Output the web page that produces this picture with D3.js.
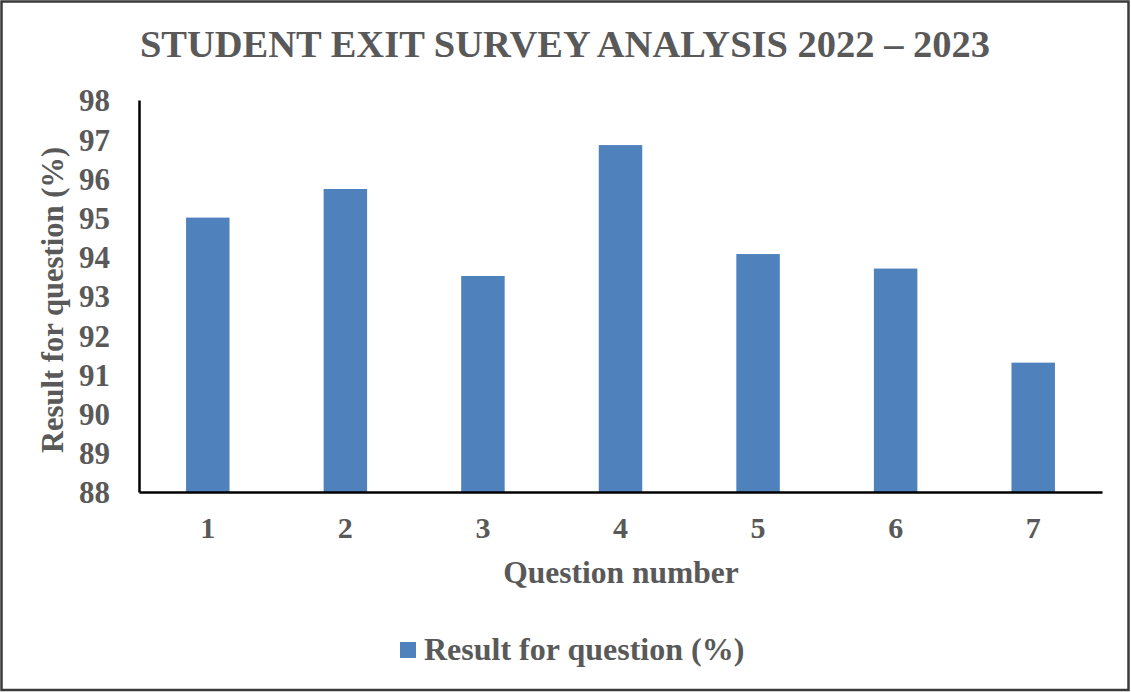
<!DOCTYPE html>
<html>
<head>
<meta charset="utf-8">
<script src="https://cdn.jsdelivr.net/npm/d3@7"></script>
<style>
  html, body { margin: 0; padding: 0; background: #fff; }
  svg { display: block; }
  text { font-family: "Liberation Serif", "Times New Roman", serif; font-weight: bold; fill: #595959; }
</style>
</head>
<body>
<svg id="chart" width="1131" height="692"></svg>
<script>
// Survey results per question
const questions = ["1", "2", "3", "4", "5", "6", "7"];
const results = [95.0, 95.73, 93.51, 96.85, 94.07, 93.7, 91.3];
const yTicks = [88, 89, 90, 91, 92, 93, 94, 95, 96, 97, 98];
const title = "STUDENT EXIT SURVEY ANALYSIS 2022 – 2023";
const xTitle = "Question number";
const yTitle = "Result for question (%)";
const seriesName = "Result for question (%)";

const W = 1131, H = 692;
const plot = { left: 139, right: 1102, top: 100, bottom: 492 };
const barColor = "#4f81bd";

const svg = d3.select("#chart");

// outer frame
svg.append("rect")
  .attr("x", 1.5).attr("y", 1.5)
  .attr("width", W - 4).attr("height", H - 3.5)
  .attr("fill", "#fff").attr("stroke", "#3a3a3a").attr("stroke-width", 2.5);

const x = d3.scaleBand()
  .domain(questions)
  .range([plot.left, plot.right])
  .paddingInner(0.684)
  .paddingOuter(0.342);

const y = d3.scaleLinear()
  .domain([88, 98])
  .range([plot.bottom, plot.top]);

// bars
svg.append("g").selectAll("rect")
  .data(questions)
  .join("rect")
  .attr("x", d => x(d))
  .attr("width", x.bandwidth())
  .attr("y", (d, i) => y(results[i]))
  .attr("height", (d, i) => y(88) - y(results[i]))
  .attr("fill", barColor);

// y axis
const yAxis = svg.append("g")
  .attr("transform", `translate(${plot.left},0)`)
  .call(d3.axisLeft(y).tickValues(yTicks).tickSize(0).tickPadding(29).tickFormat(d3.format("d")));
yAxis.select(".domain").attr("stroke", "#000").attr("stroke-width", 2.5);
yAxis.selectAll("text")
  .attr("font-size", 31)
  .attr("dy", "0.35em")
  .style("font-family", "'Liberation Serif', serif").style("font-weight", "bold").attr("fill", "#595959");

// x axis
const xAxis = svg.append("g")
  .attr("transform", `translate(0,${plot.bottom})`)
  .call(d3.axisBottom(x).tickSize(0).tickPadding(25));
xAxis.select(".domain").attr("stroke", "#000").attr("stroke-width", 2.5);
xAxis.selectAll("text")
  .attr("font-size", 30)
  .style("font-family", "'Liberation Serif', serif").style("font-weight", "bold").attr("fill", "#595959");

// title
svg.append("text")
  .attr("x", 565).attr("y", 57)
  .attr("text-anchor", "middle")
  .attr("font-size", 38.5)
  .text(title);

// axis titles
svg.append("text")
  .attr("x", 621).attr("y", 583)
  .attr("text-anchor", "middle")
  .attr("font-size", 31.5)
  .text(xTitle);

svg.append("text")
  .attr("transform", `translate(63,${(plot.top + plot.bottom) / 2 + 4}) rotate(-90)`)
  .attr("text-anchor", "middle")
  .attr("font-size", 30.6)
  .text(yTitle);

// legend
const legend = svg.append("g").attr("transform", "translate(400,642)");
legend.append("rect").attr("width", 16).attr("height", 16).attr("fill", barColor);
legend.append("text").attr("x", 24).attr("y", 18).attr("font-size", 32).text(seriesName);
</script>
</body>
</html>
